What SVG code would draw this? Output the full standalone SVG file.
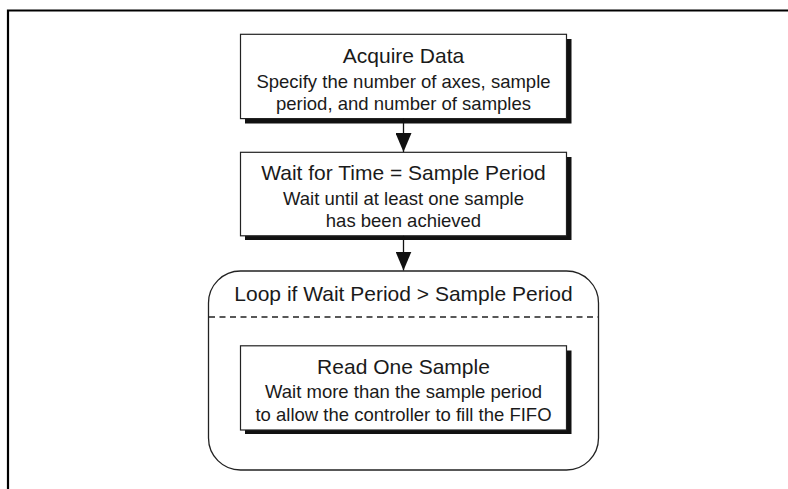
<svg xmlns="http://www.w3.org/2000/svg" width="788" height="489" viewBox="0 0 788 489">
  <style>
    .frame { fill: none; stroke: #000; stroke-width: 2.2; }
    .box { fill: #fff; stroke: #222; stroke-width: 1.2; }
    .shadow { fill: #111; }
    .loop { fill: #fff; stroke: #222; stroke-width: 1.3; }
    .dash { fill: none; stroke: #222; stroke-width: 1.4; stroke-dasharray: 6 4.5; }
    .conn { fill: none; stroke: #111; stroke-width: 1.3; }
    .title { font-family: "Liberation Sans", Arial, sans-serif; font-size: 21px; fill: #1a1a1a; text-anchor: middle; }
    .sub { font-family: "Liberation Sans", Arial, sans-serif; font-size: 18.5px; fill: #1a1a1a; text-anchor: middle; }
  </style>
  <defs>
    <marker id="arrow" markerUnits="userSpaceOnUse" viewBox="0 0 19 16" markerWidth="19" markerHeight="16" refX="19" refY="8" orient="auto">
      <path d="M0,0 L19,8 L0,16 z" fill="#111"/>
    </marker>
  </defs>
  <rect width="788" height="489" fill="#fff"/>
  <path class="frame" d="M8,489 L8,10.5 L788,10.5"/>

  <g id="loop">
    <rect class="loop" x="208.5" y="271" width="390" height="199" rx="32" ry="32"/>
    <line class="dash" x1="209" y1="317" x2="598" y2="317"/>
    <text class="title" x="403.5" y="301">Loop if Wait Period &gt; Sample Period</text>
  </g>

  <g id="acquire">
    <rect class="shadow" x="245" y="39" width="326.5" height="84.5"/>
    <rect class="box" x="240.5" y="34.3" width="326" height="84.3"/>
    <text class="title" x="403.5" y="62.5">Acquire Data</text>
    <text class="sub" x="403.5" y="87.5">Specify the number of axes, sample</text>
    <text class="sub" x="403.5" y="110">period, and number of samples</text>
  </g>

  <g id="wait">
    <rect class="shadow" x="245" y="157" width="326.5" height="83"/>
    <rect class="box" x="240.5" y="152.3" width="326" height="83.5"/>
    <text class="title" x="403.5" y="180">Wait for Time = Sample Period</text>
    <text class="sub" x="403.5" y="204.5">Wait until at least one sample</text>
    <text class="sub" x="403.5" y="227">has been achieved</text>
  </g>

  <g id="read">
    <rect class="shadow" x="245" y="350.5" width="326.5" height="83.5"/>
    <rect class="box" x="240.5" y="345.8" width="326" height="84.2"/>
    <text class="title" x="403.5" y="374">Read One Sample</text>
    <text class="sub" x="403.5" y="398">Wait more than the sample period</text>
    <text class="sub" x="403.5" y="420.5">to allow the controller to fill the FIFO</text>
  </g>

  <g id="connectors">
    <line class="conn" x1="403.5" y1="118.6" x2="403.5" y2="152" marker-end="url(#arrow)"/>
    <line class="conn" x1="403.5" y1="235.8" x2="403.5" y2="270.5" marker-end="url(#arrow)"/>
  </g>
</svg>
